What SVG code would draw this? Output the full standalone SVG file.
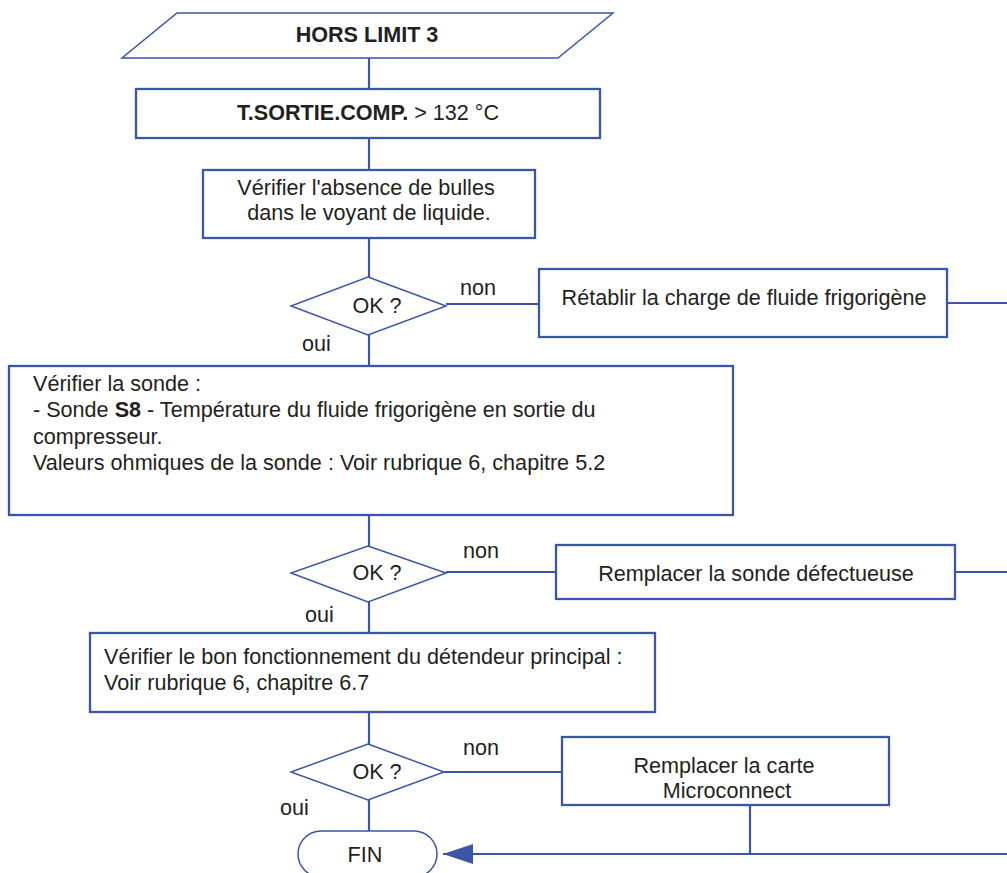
<svg xmlns="http://www.w3.org/2000/svg" width="1007" height="873" viewBox="0 0 1007 873">
  <style>
    .box { fill: #ffffff; stroke: #3b56a6; stroke-width: 2.3; }
    .thin { fill: #ffffff; stroke: #3b56a6; stroke-width: 1.5; }
    .wire { fill: none; stroke: #3b56a6; stroke-width: 2.2; }
    text { font-family: "Liberation Sans", Arial, sans-serif; font-size: 22.5px; fill: #231f20; }
    .b { font-weight: bold; }
    .c { text-anchor: middle; }
  </style>
  <defs>
    <marker id="arrow" markerUnits="userSpaceOnUse" markerWidth="30" markerHeight="20" viewBox="0 0 30 20" refX="30" refY="10" orient="auto">
      <path d="M0,0 L30,10 L0,20 z" fill="#3b56a6"/>
    </marker>
  </defs>

  <!-- connectors -->
  <g id="connectors">
    <path class="wire" d="M369,58 V89"/>
    <path class="wire" d="M369,138 V170"/>
    <path class="wire" d="M369,238 V277"/>
    <path class="wire" d="M446,304 H539"/>
    <path class="wire" d="M947,303 H1007"/>
    <path class="wire" d="M369,335 V366"/>
    <path class="wire" d="M369,515 V546"/>
    <path class="wire" d="M446,572 H556"/>
    <path class="wire" d="M955,572 H1007"/>
    <path class="wire" d="M369,602 V633"/>
    <path class="wire" d="M369,712 V744"/>
    <path class="wire" d="M444,772 H562"/>
    <path class="wire" d="M369,800 V831"/>
    <path class="wire" d="M750,805 V854"/>
    <path class="wire" d="M1007,854 H443" marker-end="url(#arrow)"/>
  </g>

  <g id="start">
    <polygon class="thin" points="177,13 613,13 558,58 122,58"/>
    <text class="b c" transform="translate(367,42) scale(0.96,1)">HORS LIMIT 3</text>
  </g>

  <g id="condition">
    <rect class="box" x="136" y="89" width="464" height="49"/>
    <text class="c" transform="translate(368,120) scale(0.96,1)"><tspan class="b">T.SORTIE.COMP.</tspan> &gt; 132 °C</text>
  </g>

  <g id="check-bubbles">
    <rect class="box" x="203" y="170" width="332" height="68"/>
    <text class="c" transform="translate(369,194.5) scale(0.96,1)">
      <tspan x="0" y="0">Vérifier l'absence de bulles</tspan>
      <tspan x="0" dy="25.2">dans le voyant de liquide.</tspan>
    </text>
  </g>

  <g id="decision-1">
    <polygon class="thin" points="368,277 446,306 368,335 291,306"/>
    <text class="c" transform="translate(377,313) scale(0.96,1)">OK ?</text>
    <text transform="translate(460,295) scale(0.96,1)">non</text>
    <text transform="translate(302,351) scale(0.96,1)">oui</text>
  </g>

  <g id="recharge">
    <rect class="box" x="539" y="269" width="408" height="68"/>
    <text class="c" transform="translate(744,305) scale(0.96,1)">Rétablir la charge de fluide frigorigène</text>
  </g>

  <g id="check-sensor">
    <rect class="box" x="9" y="366" width="724" height="149"/>
    <text transform="translate(33,391) scale(0.96,1)">
      <tspan x="0" y="0">Vérifier la sonde :</tspan>
      <tspan x="0" dy="26.3">- Sonde <tspan class="b">S8</tspan> - Température du fluide frigorigène en sortie du</tspan>
      <tspan x="0" dy="26.3">compresseur.</tspan>
      <tspan x="0" dy="26.3">Valeurs ohmiques de la sonde : Voir rubrique 6, chapitre 5.2</tspan>
    </text>
  </g>

  <g id="decision-2">
    <polygon class="thin" points="368,546 446,573 368,602 291,573"/>
    <text class="c" transform="translate(377,580) scale(0.96,1)">OK ?</text>
    <text transform="translate(463,558) scale(0.96,1)">non</text>
    <text transform="translate(305,622) scale(0.96,1)">oui</text>
  </g>

  <g id="replace-sensor">
    <rect class="box" x="556" y="545" width="399" height="54"/>
    <text class="c" transform="translate(756,581) scale(0.96,1)">Remplacer la sonde défectueuse</text>
  </g>

  <g id="check-valve">
    <rect class="box" x="90" y="633" width="565" height="79"/>
    <text transform="translate(104,664) scale(0.96,1)">
      <tspan x="0" y="0">Vérifier le bon fonctionnement du détendeur principal :</tspan>
      <tspan x="0" dy="26">Voir rubrique 6, chapitre 6.7</tspan>
    </text>
  </g>

  <g id="decision-3">
    <polygon class="thin" points="368,744 444,772 368,800 291,772"/>
    <text class="c" transform="translate(377,779) scale(0.96,1)">OK ?</text>
    <text transform="translate(280,815) scale(0.96,1)">oui</text>
    <text transform="translate(463,755) scale(0.96,1)">non</text>
  </g>

  <g id="replace-board">
    <rect class="box" x="562" y="737" width="327" height="68"/>
    <text class="c" transform="translate(727,772.5) scale(0.96,1)">
      <tspan x="0" y="0">Remplacer la carte</tspan>
      <tspan x="0" dy="25.2">Microconnect</tspan>
    </text>
  </g>

  <g id="end">
    <rect class="thin" x="298" y="831" width="139" height="46" rx="23" ry="23"/>
    <text class="c" transform="translate(365,862) scale(0.96,1)">FIN</text>
  </g>
</svg>
